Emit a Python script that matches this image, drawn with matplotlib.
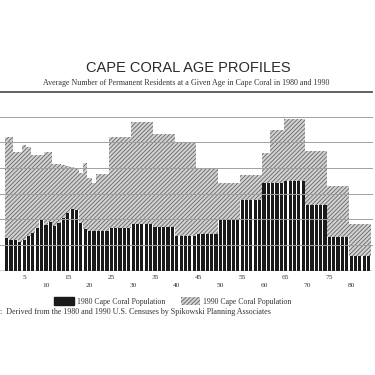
import numpy as np
import matplotlib
matplotlib.use("Agg")
import matplotlib.pyplot as plt
from matplotlib.patches import Patch

# Ages 1-24 are read bar by bar, older ages come in census groups
young_ages = np.arange(1, 25)
pop80_young = [129, 120, 120, 112, 120, 135, 148, 168, 198, 178, 191, 174,
               185, 204, 224, 239, 237, 185, 161, 156, 156, 156, 156, 156]
pop90_young = [520, 520, 461, 461, 490, 480, 451, 451, 451, 461, 461, 415,
               415, 412, 409, 405, 402, 380, 421, 360, 342, 378, 378, 378]

group_start = [25, 30, 35, 40, 45, 50, 55, 60, 62, 65, 70, 75, 80]
group_end = [29, 34, 39, 44, 49, 54, 59, 61, 64, 69, 74, 79, 84]
pop80_groups = [166, 181, 169, 137, 142, 198, 276, 340, 340, 350, 257, 133, 59]
pop90_groups = [522, 579, 533, 497, 396, 341, 374, 458, 547, 592, 467, 331, 181]

tick_ages = list(range(5, 85, 5))

TITLE = "CAPE CORAL AGE PROFILES"
SUBTITLE = "Average Number of Permanent Residents at a Given Age in Cape Coral in 1980 and 1990"
SOURCE = ":  Derived from the 1980 and 1990 U.S. Censuses by Spikowski Planning Associates"

SERIF = ["Liberation Serif", "DejaVu Serif"]
SANS = ["Liberation Sans", "DejaVu Sans"]

HATCH_FACE = "#d2d2d2"
HATCH_LINE = "#666666"
DARK = "#1a1a1a"

# expand the grouped values to one value per age
group_len = np.array(group_end) - np.array(group_start) + 1
ages = np.concatenate([young_ages, np.arange(25, 85)])
pop80 = np.concatenate([pop80_young, np.repeat(pop80_groups, group_len)])
pop90 = np.concatenate([pop90_young, np.repeat(pop90_groups, group_len)])

plt.rcParams["hatch.linewidth"] = 0.6

fig = plt.figure(figsize=(3.75, 3.75), dpi=100)
ax = fig.add_axes([0, 1 - 270.7 / 375, 372 / 375, (270.7 - 116.7) / 375])

ax.bar(ages, pop90, width=1.0, color=HATCH_FACE, edgecolor=HATCH_LINE,
       hatch="////////", linewidth=0, zorder=1)
ax.bar(ages, pop80, width=1.0, color="white", linewidth=0, zorder=2)
ax.bar(ages, pop80, width=0.74, color=DARK, linewidth=0, zorder=2)

for y in range(100, 700, 100):
    ax.axhline(y, color="#a0a0a0", lw=0.7, zorder=3, clip_on=False)
ax.axhline(0, color="#333333", lw=1.0, zorder=4)

ax.set_xlim(-0.54, 84.78)
ax.set_ylim(0, 600)
for s in ax.spines.values():
    s.set_visible(False)
ax.set_xticks([])
ax.set_yticks([])

# staggered age labels
for a in tick_ages:
    dy = -7 if a % 10 else -14.5
    ax.annotate(str(a), xy=(a, 0), xycoords=("data", "axes fraction"),
                xytext=(0, dy * 72 / 100), textcoords="offset points",
                ha="center", va="center", fontsize=5.3, family=SERIF,
                color="#333333")

# title block
fig.text(188 / 375, 1 - 68 / 375, TITLE, ha="center", va="center",
         fontsize=10.5, family=SANS, color="#2a2a2a")
fig.text(186 / 375, 1 - 83.3 / 375, SUBTITLE, ha="center", va="center",
         fontsize=5.75, family=SERIF, color="#333333")
fig.add_artist(plt.Line2D([0, 372 / 375], [1 - 91.7 / 375] * 2,
                          color="#555555", lw=1.3))

handles = [Patch(facecolor=DARK, edgecolor=DARK),
           Patch(facecolor=HATCH_FACE, edgecolor=HATCH_LINE, hatch="////////", lw=0)]
fig.legend(handles, ["1980 Cape Coral Population", "1990 Cape Coral Population"],
           loc="center", bbox_to_anchor=(173 / 375, 1 - 301.7 / 375), ncol=2,
           frameon=False, prop={"family": SERIF, "size": 5.6},
           handlelength=2.5, handleheight=1.2, handletextpad=0.4,
           columnspacing=2.0, labelcolor="#333333")

fig.text(0, 1 - 312.3 / 375, SOURCE, ha="left", va="center",
         fontsize=5.8, family=SERIF, color="#333333")

fig.savefig("out.png", dpi=100, facecolor="white")
